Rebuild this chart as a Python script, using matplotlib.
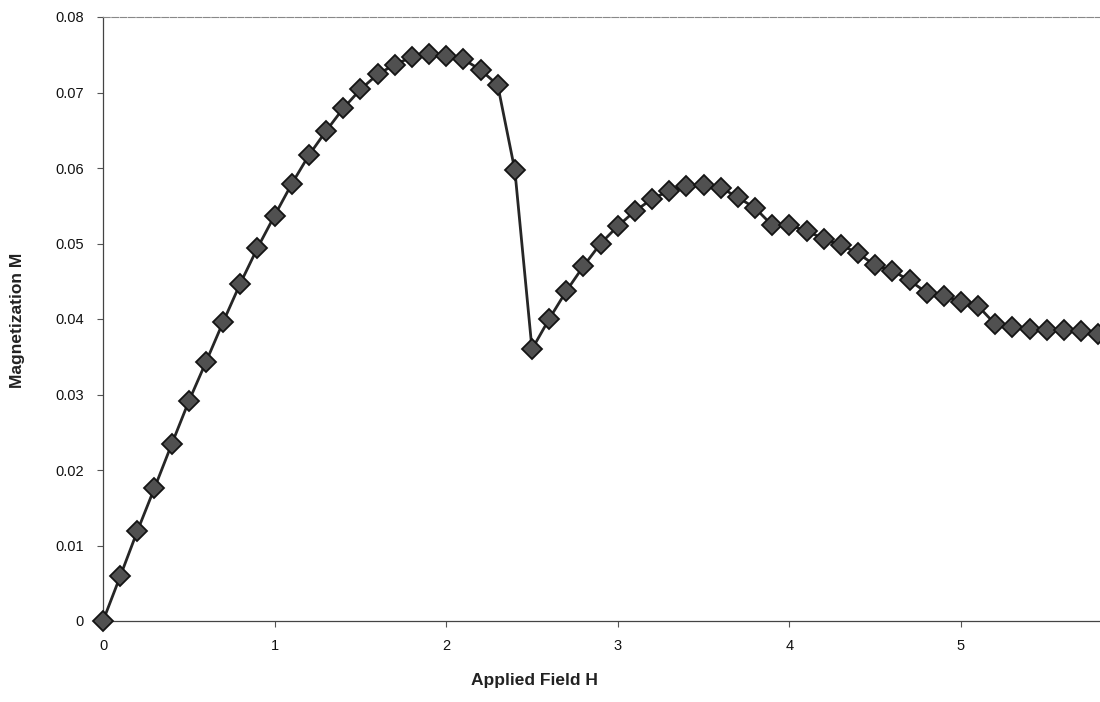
import matplotlib
matplotlib.use("Agg")
import matplotlib.pyplot as plt

H = [0.0, 0.1, 0.2, 0.3, 0.4, 0.5, 0.6, 0.7, 0.8, 0.9,
     1.0, 1.1, 1.2, 1.3, 1.4, 1.5, 1.6, 1.7, 1.8, 1.9,
     2.0, 2.1, 2.2, 2.3, 2.4, 2.5, 2.6, 2.7, 2.8, 2.9,
     3.0, 3.1, 3.2, 3.3, 3.4, 3.5, 3.6, 3.7, 3.8, 3.9,
     4.0, 4.1, 4.2, 4.3, 4.4, 4.5, 4.6, 4.7, 4.8, 4.9,
     5.0, 5.1, 5.2, 5.3, 5.4, 5.5, 5.6, 5.7, 5.8]
M = [0.0, 0.0059, 0.0119, 0.0176, 0.0234, 0.0291, 0.0343, 0.0396, 0.0447, 0.0494,
     0.0537, 0.0579, 0.0617, 0.0649, 0.0679, 0.0704, 0.0724, 0.0737, 0.0747, 0.0751,
     0.0749, 0.0744, 0.0730, 0.0710, 0.0597, 0.0360, 0.0400, 0.0437, 0.0470, 0.0500,
     0.0523, 0.0543, 0.0559, 0.0570, 0.0576, 0.0577, 0.0574, 0.0561, 0.0547, 0.0524,
     0.0524, 0.0517, 0.0506, 0.0498, 0.0487, 0.0471, 0.0464, 0.0451, 0.0435, 0.0431,
     0.0423, 0.0417, 0.0393, 0.0389, 0.0387, 0.0386, 0.0386, 0.0384, 0.0380]

x_ticks = [0, 1, 2, 3, 4, 5]
y_ticks = [0, 0.01, 0.02, 0.03, 0.04, 0.05, 0.06, 0.07, 0.08]
y_tick_labels = ["0", "0.01", "0.02", "0.03", "0.04", "0.05", "0.06", "0.07", "0.08"]

plt.rcParams['font.family'] = ['Liberation Sans', 'DejaVu Sans']

fig = plt.figure(figsize=(11, 7.02), dpi=100)
ax = fig.add_axes([103/1100, 81/702, 997/1100, 604/702])

ax.plot(H, M, color='#262626', linewidth=2.0, marker='D', markersize=10.5,
        markerfacecolor='#505050', markeredgecolor='#141414', markeredgewidth=1.3,
        clip_on=False, zorder=3)

ax.set_xlim(0, 5.81)
ax.set_ylim(0, 0.08)
ax.set_xticks(x_ticks)
ax.set_xticklabels([str(t) for t in x_ticks])
ax.set_yticks(y_ticks)
ax.set_yticklabels(y_tick_labels)

for s in ['left', 'bottom']:
    ax.spines[s].set_color('#444444')
    ax.spines[s].set_linewidth(0.9)
ax.spines['top'].set_color('#888888')
ax.spines['top'].set_linewidth(0.8)
ax.spines['top'].set_linestyle((0, (6, 1.5)))
ax.spines['right'].set_visible(False)

ax.tick_params(axis='both', direction='out', length=4, width=0.8, color='#555555',
               labelsize=10.5, labelcolor='#111111')
ax.tick_params(axis='y', pad=10)
ax.tick_params(axis='x', pad=9)

ax.set_xlabel('Applied Field H', fontsize=12.5, fontweight='bold', color='#222222')
ax.set_ylabel('Magnetization M', fontsize=12.5, fontweight='bold', color='#222222')
ax.xaxis.set_label_coords(0.433, -0.098)
ax.yaxis.set_label_coords(-0.0853, 0.498)
ax.xaxis.label.set_va('center')
ax.yaxis.label.set_va('center')

fig.savefig('out.png', dpi=100)
